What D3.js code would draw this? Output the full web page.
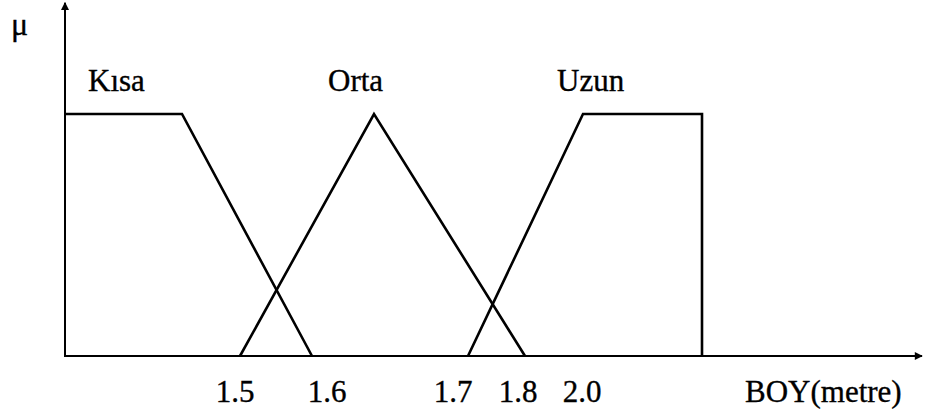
<!DOCTYPE html>
<html><head><meta charset="utf-8">
<script src="https://cdn.jsdelivr.net/npm/d3@7"></script>
<style>
html,body{margin:0;padding:0;background:#fff;}
</style></head>
<body><svg id="c" width="927" height="416"></svg>
<script>
// Membership functions (x in metres, y = membership degree)
const kisa = [[1.3,1],[1.4,1],[1.6,0]];
const orta = [[1.5,0],[1.65,1],[1.8,0]];
const uzun = [[1.7,0],[2.0,1],[2.2,1],[2.2,0]];
const seriesNames = ["Kısa","Orta","Uzun"];
const tickValues = [1.5,1.6,1.7,1.8,2.0];
const tickLabels = ["1.5","1.6","1.7","1.8","2.0"];
const xTitle = "BOY(metre)";
const yTitle = "μ";

const FONT = "Liberation Serif";
const svg = d3.select("#c");
// piecewise-linear (non-uniform, as in the hand-drawn figure)
const x = d3.scaleLinear()
  .domain([1.3,1.4,1.5,1.6,1.65,1.7,1.8,2.0,2.2,2.4])
  .range([65,182,240,312,374,468,525,583,702,922]);
const xLab = d3.scaleLinear()
  .domain([1.5,1.6,1.7,1.8,2.0])
  .range([235,327,453,518,582]);
const y = d3.scaleLinear().domain([0,1]).range([356,114]);

// arrow marker
svg.append("defs").append("marker")
  .attr("id","arr").attr("viewBox","0 0 10 10").attr("refX",9).attr("refY",5)
  .attr("markerWidth",9).attr("markerHeight",8).attr("markerUnits","userSpaceOnUse")
  .attr("orient","auto")
  .append("path").attr("d","M0,0 L10,5 L0,10 Z").attr("fill","#000");

// axes
svg.append("line").attr("x1",x(1.3)).attr("y1",y(0)).attr("x2",x(2.4)).attr("y2",y(0))
  .attr("stroke","#000").attr("stroke-width",2).attr("marker-end","url(#arr)");
svg.append("line").attr("x1",x(1.3)).attr("y1",y(0)+1).attr("x2",x(1.3)).attr("y2",y(1.46))
  .attr("stroke","#000").attr("stroke-width",2).attr("marker-end","url(#arr)");

// membership lines
const line = d3.line().x(d=>x(d[0])).y(d=>y(d[1]));
[kisa,orta,uzun].forEach(s=>{
  svg.append("path").attr("d",line(s)).attr("fill","none")
    .attr("stroke","#000").attr("stroke-width",2.6).attr("stroke-linejoin","miter");
});

function styleText(sel, size){
  sel.attr("font-family",FONT).attr("font-size",size)
     .attr("fill","#000").attr("stroke","#000").attr("stroke-width",0.35);
}

// series labels
const labPos = [88,328,557];
styleText(svg.selectAll("text.s").data(seriesNames).enter().append("text").attr("class","s")
  .attr("x",(d,i)=>labPos[i]).attr("y",91).text(d=>d), 31);

// tick labels
styleText(svg.selectAll("text.t").data(tickValues).enter().append("text").attr("class","t")
  .attr("x",d=>xLab(d)).attr("y",402).attr("text-anchor","middle")
  .text((d,i)=>tickLabels[i]), 31);

styleText(svg.append("text").attr("x",745).attr("y",402).text(xTitle), 31);
styleText(svg.append("text").attr("x",11).attr("y",35).text(yTitle), 32);
</script></body></html>
